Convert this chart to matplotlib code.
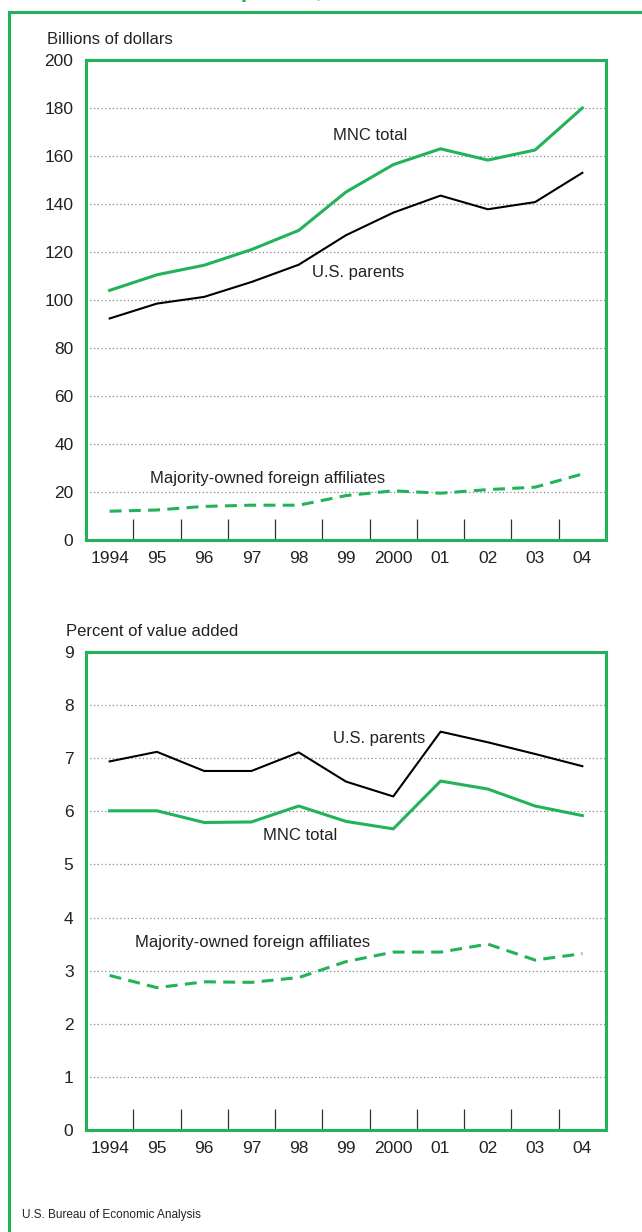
import matplotlib
matplotlib.use("Agg")
import matplotlib.pyplot as plt
from matplotlib.lines import Line2D

plt.rcParams['font.family'] = ['Liberation Sans Narrow', 'Liberation Sans', 'DejaVu Sans']

years = ["1994", "95", "96", "97", "98", "99", "2000", "01", "02", "03", "04"]

# Top panel: billions of dollars
mnc_total_usd = [104, 110.5, 114.5, 121, 129, 145, 156.4, 163, 158.3, 162.5, 180]
us_parents_usd = [92.3, 98.5, 101.3, 107.5, 114.7, 127, 136.4, 143.5, 137.8, 140.8, 153]
mofa_usd = [12, 12.5, 14, 14.5, 14.5, 18.5, 20.5, 19.5, 21, 22, 27.5]

# Bottom panel: percent of value added
us_parents_pct = [6.94, 7.12, 6.76, 6.76, 7.11, 6.56, 6.28, 7.5, 7.3, 7.08, 6.85]
mnc_total_pct = [6.01, 6.01, 5.79, 5.80, 6.10, 5.81, 5.67, 6.57, 6.42, 6.10, 5.92]
mofa_pct = [2.91, 2.68, 2.79, 2.78, 2.87, 3.17, 3.35, 3.35, 3.50, 3.20, 3.32]

GREEN = '#23b25a'
TXT = '#222222'
W, H = 642, 1232
fig = plt.figure(figsize=(W / 100, H / 100), dpi=100)

def fx(px):
    return px / W

def fy(py):
    return 1 - py / H

# outer frame
fig.add_artist(Line2D([fx(9), fx(660)], [fy(12), fy(12)], color=GREEN, lw=2.2,
                      transform=fig.transFigure, solid_capstyle='projecting'))
fig.add_artist(Line2D([fx(9), fx(9)], [fy(12), fy(1250)], color=GREEN, lw=2.2,
                      transform=fig.transFigure, solid_capstyle='projecting'))
# partial (cut-off) title, as in the reference
fig.text(fx(215), fy(-9), "U.S. Multinational Companies, 1994–2004", color=GREEN,
         fontsize=17, fontweight='bold', ha='center', va='center')

x = list(range(len(years)))
DASH = (0, (3.9, 2.4))

def style_axes(ax, ymax, ystep):
    for s in ax.spines.values():
        s.set_color(GREEN)
        s.set_linewidth(2.2)
    ax.set_xlim(-0.5, len(years) - 0.5)
    ax.set_ylim(0, ymax)
    yt = [i * ystep for i in range(int(round(ymax / ystep)) + 1)]
    ax.set_yticks(yt)
    ax.set_yticklabels([f"{v:g}" for v in yt], fontsize=12.5, color=TXT)
    ax.tick_params(axis='y', length=0, pad=9)
    ax.set_xticks(x)
    ax.set_xticklabels(years, fontsize=12.5, color=TXT)
    ax.tick_params(axis='x', which='major', length=0, pad=8)
    ax.set_xticks([i + 0.5 for i in range(len(years) - 1)], minor=True)
    ax.tick_params(axis='x', which='minor', direction='in', length=15, width=0.9,
                   color='#333333')
    for v in yt[1:-1]:
        ax.axhline(v, color='#8a8a8a', lw=0.9, ls=(0, (1, 2)), zorder=1)

# Top axes
ax1 = fig.add_axes([fx(86), fy(540), fx(606) - fx(86), (540 - 60) / H])
style_axes(ax1, 200, 20)
ax1.plot(x, mnc_total_usd, color=GREEN, lw=2.2, zorder=3)
ax1.plot(x, us_parents_usd, color='black', lw=1.5, zorder=3)
ax1.plot(x, mofa_usd, color=GREEN, lw=2.2, ls=DASH, zorder=3)
fig.text(fx(47), fy(40), "Billions of dollars", fontsize=12, ha='left', va='center', color=TXT)
fig.text(fx(333), fy(136), "MNC total", fontsize=12, ha='left', va='center', color=TXT)
fig.text(fx(312), fy(272), "U.S. parents", fontsize=12, ha='left', va='center', color=TXT)
fig.text(fx(150), fy(478), "Majority-owned foreign affiliates", fontsize=12, ha='left', va='center', color=TXT)

# Bottom axes
ax2 = fig.add_axes([fx(86), fy(1130), fx(606) - fx(86), (1130 - 652) / H])
style_axes(ax2, 9, 1)
ax2.plot(x, us_parents_pct, color='black', lw=1.5, zorder=3)
ax2.plot(x, mnc_total_pct, color=GREEN, lw=2.2, zorder=3)
ax2.plot(x, mofa_pct, color=GREEN, lw=2.2, ls=DASH, zorder=3)
fig.text(fx(66), fy(632), "Percent of value added", fontsize=12, ha='left', va='center', color=TXT)
fig.text(fx(333), fy(738), "U.S. parents", fontsize=12, ha='left', va='center', color=TXT)
fig.text(fx(263), fy(836), "MNC total", fontsize=12, ha='left', va='center', color=TXT)
fig.text(fx(135), fy(943), "Majority-owned foreign affiliates", fontsize=12, ha='left', va='center', color=TXT)

fig.text(fx(22), fy(1215), "U.S. Bureau of Economic Analysis", fontsize=8.5, ha='left', va='center', color=TXT)

fig.savefig("out.png", dpi=100)
